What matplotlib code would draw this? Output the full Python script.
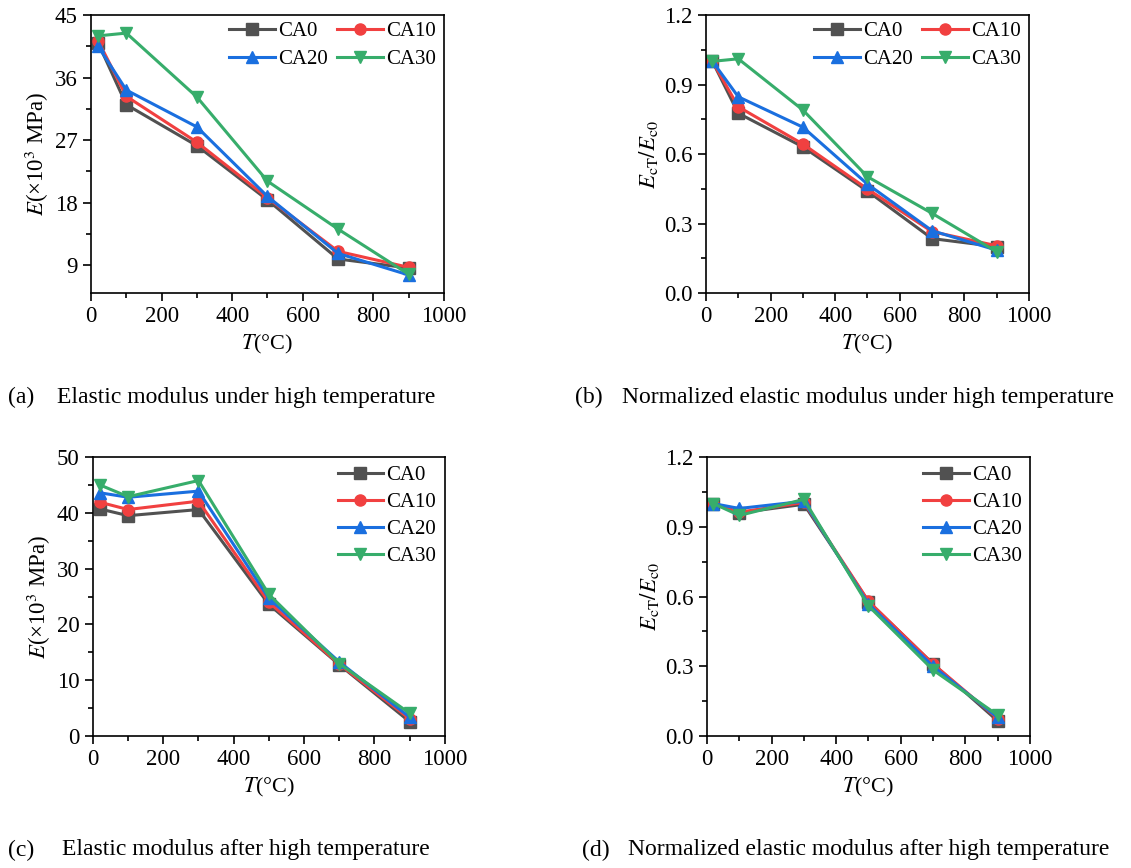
import matplotlib
matplotlib.use("Agg")
import matplotlib.pyplot as plt
from matplotlib.ticker import MultipleLocator, FormatStrFormatter

plt.rcParams['font.family'] = 'Liberation Serif'
plt.rcParams['mathtext.fontset'] = 'stix'
plt.rcParams['font.size'] = 13

T = [20, 100, 300, 500, 700, 900]
names = ['CA0', 'CA10', 'CA20', 'CA30']
colors = ['#515151', '#F14040', '#1A6FDF', '#37AD6B']
markers = ['s', 'o', '^', 'v']

# (a) elastic modulus under high temperature
E_hot = {
    'CA0':  [41.0, 32.1, 26.2, 18.4, 9.9, 8.6],
    'CA10': [41.3, 33.3, 26.7, 18.7, 11.0, 8.7],
    'CA20': [40.5, 34.2, 28.9, 18.9, 10.7, 7.6],
    'CA30': [42.0, 42.4, 33.2, 21.1, 14.2, 7.7],
}
# (b) normalized, under high temperature
N_hot = {
    'CA0':  [1.0, 0.776, 0.631, 0.440, 0.235, 0.200],
    'CA10': [1.0, 0.804, 0.643, 0.449, 0.265, 0.204],
    'CA20': [1.0, 0.847, 0.716, 0.470, 0.269, 0.185],
    'CA30': [1.0, 1.011, 0.790, 0.502, 0.344, 0.178],
}
# (c) elastic modulus after high temperature
E_after = {
    'CA0':  [40.7, 39.5, 40.6, 23.6, 12.8, 2.6],
    'CA10': [41.9, 40.6, 42.1, 24.0, 12.9, 3.1],
    'CA20': [43.6, 42.8, 43.9, 24.7, 13.3, 3.4],
    'CA30': [45.0, 42.9, 45.8, 25.4, 13.0, 4.1],
}
# (d) normalized, after high temperature
N_after = {
    'CA0':  [1.0, 0.960, 0.997, 0.578, 0.310, 0.065],
    'CA10': [1.0, 0.963, 1.005, 0.580, 0.310, 0.075],
    'CA20': [1.0, 0.979, 1.010, 0.568, 0.300, 0.080],
    'CA30': [1.0, 0.949, 1.018, 0.560, 0.284, 0.090],
}

fig = plt.figure(figsize=(11.31, 8.68), dpi=100)
axa = fig.add_axes([0.0805, 0.6624, 0.312, 0.3203])
axb = fig.add_axes([0.6242, 0.6624, 0.2856, 0.3203])
axc = fig.add_axes([0.0822, 0.152, 0.311, 0.3214])
axd = fig.add_axes([0.6251, 0.152, 0.2856, 0.3214])

panels = [
    (axa, E_hot, (5, 45), 9, 4.5, r'$E$(×10$^3$ MPa)', 2),
    (axb, N_hot, (0, 1.2), 0.3, 0.15, r'$E_{\rm cT}/E_{\rm c0}$', 2),
    (axc, E_after, (0, 50), 10, 5, r'$E$(×10$^3$ MPa)', 1),
    (axd, N_after, (0, 1.2), 0.3, 0.15, r'$E_{\rm cT}/E_{\rm c0}$', 1),
]

for ax, data, ylim, major, minor, ylab, ncol in panels:
    lines = []
    for n, c, m in zip(names, colors, markers):
        ln, = ax.plot(T, data[n], color=c, marker=m, lw=2.2, ms=8, label=n)
        lines.append(ln)
    ax.set_xlim(0, 1000)
    ax.set_ylim(*ylim)
    ax.xaxis.set_major_locator(MultipleLocator(200))
    ax.xaxis.set_minor_locator(MultipleLocator(100))
    ax.yaxis.set_major_locator(MultipleLocator(major))
    ax.yaxis.set_minor_locator(MultipleLocator(minor))
    if ylim[1] < 2:
        ax.yaxis.set_major_formatter(FormatStrFormatter('%.1f'))
    ax.tick_params(which='both', direction='out', top=False, right=False, labelsize=16.5)
    ax.tick_params(which='major', length=6, width=1.2)
    ax.tick_params(which='minor', length=3.5, width=1.2)
    for s in ax.spines.values():
        s.set_linewidth(1.2)
    ax.set_xlabel(r'$T$(°C)', fontsize=16, labelpad=4)
    ax.set_ylabel(ylab, fontsize=16.5, labelpad=3)
    if ncol == 2:
        # row-wise order: CA0 CA10 / CA20 CA30
        order = [0, 2, 1, 3]
        ax.legend([lines[i] for i in order], [names[i] for i in order],
                  loc='upper right', bbox_to_anchor=(1.0, 1.007), ncol=2,
                  frameon=False, fontsize=15, handlelength=2.2,
                  handletextpad=0.15, columnspacing=0.45,
                  labelspacing=0.4, borderaxespad=0.0)
    else:
        ax.legend(loc='upper right', bbox_to_anchor=(1.0, 0.999), ncol=1,
                  frameon=False, fontsize=15, handlelength=2.2,
                  handletextpad=0.15, labelspacing=0.35, borderaxespad=0.0)

captions = [
    (8, 397, '(a)', 57, 'Elastic modulus under high temperature'),
    (575, 397, '(b)', 622, 'Normalized elastic modulus under high temperature'),
    (8, 850, '(c)', 62, 'Elastic modulus after high temperature'),
    (582, 850, '(d)', 628, 'Normalized elastic modulus after high temperature'),
]
for x1, y, lab, x2, txt in captions:
    fig.text(x1 / 1131, 1 - y / 868, lab, fontsize=17, va='center', ha='left')
    fig.text(x2 / 1131, 1 - y / 868, txt, fontsize=17, va='center', ha='left')

fig.savefig('out.png', dpi=100)
